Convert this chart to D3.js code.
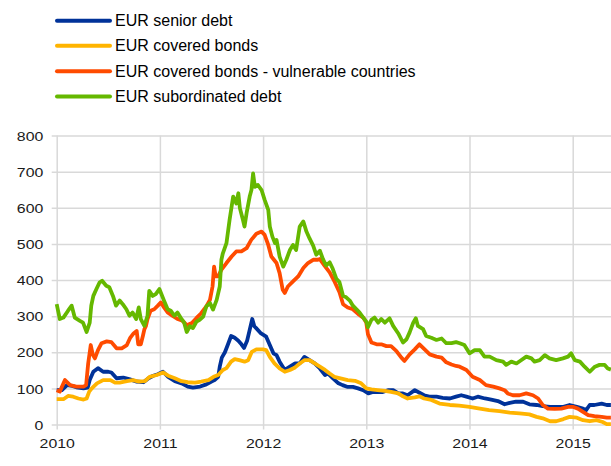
<!DOCTYPE html>
<html>
<head>
<meta charset="utf-8">
<script src="https://cdn.jsdelivr.net/npm/d3@7"></script>
<style>
  html, body { margin: 0; padding: 0; background: #fff; }
  svg { display: block; font-family: "Liberation Sans", Arial, sans-serif; }
</style>
</head>
<body>
<svg id="chart" width="611" height="466"></svg>
<script>
// ---- data (decimal year, basis points) ----
const seriesNames = ["EUR senior debt", "EUR covered bonds", "EUR covered bonds - vulnerable countries", "EUR subordinated debt"];
const seriesColors = ["#003299", "#ffb400", "#ff4b00", "#65b800"];
const yTicks = [0, 100, 200, 300, 400, 500, 600, 700, 800];
const xTicks = [2010, 2011, 2012, 2013, 2014, 2015];

const seniorDebt = [[2010.00,95],[2010.05,95],[2010.10,109],[2010.15,107],[2010.19,103],[2010.26,100],[2010.30,102],[2010.32,123],[2010.355,146],[2010.40,156],[2010.45,146],[2010.50,146],[2010.53,144],[2010.58,128],[2010.645,130],[2010.71,125],[2010.77,119],[2010.84,117],[2010.89,128],[2010.935,135],[2010.98,139],[2011.03,146],[2011.08,132],[2011.145,120],[2011.21,114],[2011.27,105],[2011.32,102],[2011.39,105],[2011.45,111],[2011.50,119],[2011.53,123],[2011.565,132],[2011.58,160],[2011.60,185],[2011.63,200],[2011.66,222],[2011.69,245],[2011.725,240],[2011.76,232],[2011.79,222],[2011.815,212],[2011.845,232],[2011.87,262],[2011.895,292],[2011.915,272],[2011.935,266],[2011.98,252],[2012.03,243],[2012.065,220],[2012.10,197],[2012.13,192],[2012.16,174],[2012.21,151],[2012.26,160],[2012.31,169],[2012.355,169],[2012.40,187],[2012.45,178],[2012.50,169],[2012.55,155],[2012.60,137],[2012.63,141],[2012.68,127],[2012.73,114],[2012.77,109],[2012.82,104],[2012.87,104],[2012.92,100],[2012.97,95],[2013.02,86],[2013.065,90],[2013.11,90],[2013.16,90],[2013.21,95],[2013.26,95],[2013.31,86],[2013.355,86],[2013.40,81],[2013.47,95],[2013.515,88],[2013.56,81],[2013.61,77],[2013.68,77],[2013.74,74],[2013.81,72],[2013.87,77],[2013.92,81],[2013.97,77],[2014.03,72],[2014.08,77],[2014.15,72],[2014.21,69],[2014.275,65],[2014.34,56],[2014.39,60],[2014.45,63],[2014.52,63],[2014.58,56],[2014.65,54],[2014.71,51],[2014.78,49],[2014.84,49],[2014.91,49],[2014.97,54],[2015.04,49],[2015.10,44],[2015.13,40],[2015.165,54],[2015.21,54],[2015.28,58],[2015.33,54],[2015.37,54]];

const coveredBonds = [[2010.00,70],[2010.065,70],[2010.11,79],[2010.16,77],[2010.21,72],[2010.26,69],[2010.29,72],[2010.315,91],[2010.34,100],[2010.39,114],[2010.45,123],[2010.52,123],[2010.565,116],[2010.61,116],[2010.68,120],[2010.74,123],[2010.79,119],[2010.855,120],[2010.90,132],[2010.97,137],[2011.03,144],[2011.08,135],[2011.145,128],[2011.21,120],[2011.27,117],[2011.34,116],[2011.40,119],[2011.47,123],[2011.52,132],[2011.565,137],[2011.61,151],[2011.645,156],[2011.69,174],[2011.725,181],[2011.77,178],[2011.82,174],[2011.855,178],[2011.89,201],[2011.935,208],[2012.00,208],[2012.03,206],[2012.065,187],[2012.11,169],[2012.16,155],[2012.21,146],[2012.26,151],[2012.31,158],[2012.355,169],[2012.40,178],[2012.45,178],[2012.50,169],[2012.55,160],[2012.60,151],[2012.645,141],[2012.69,132],[2012.76,127],[2012.82,123],[2012.89,121],[2012.95,114],[2013.00,100],[2013.05,97],[2013.11,95],[2013.18,93],[2013.24,90],[2013.31,86],[2013.355,78],[2013.40,72],[2013.47,75],[2013.515,78],[2013.56,72],[2013.63,68],[2013.71,58],[2013.81,54],[2013.90,52],[2014.00,49],[2014.10,44],[2014.19,40],[2014.29,37],[2014.39,33],[2014.485,31],[2014.58,28],[2014.65,21],[2014.71,17],[2014.78,9],[2014.84,9],[2014.91,15],[2014.97,21],[2015.04,19],[2015.10,12],[2015.165,9],[2015.23,12],[2015.29,7],[2015.33,1],[2015.37,1]];

const coveredVulnerable = [[2010.00,95],[2010.03,91],[2010.08,123],[2010.13,109],[2010.19,105],[2010.26,105],[2010.285,109],[2010.305,169],[2010.33,220],[2010.35,193],[2010.37,183],[2010.40,206],[2010.435,225],[2010.485,230],[2010.53,228],[2010.58,211],[2010.63,211],[2010.68,220],[2010.71,239],[2010.745,252],[2010.775,259],[2010.79,222],[2010.815,222],[2010.835,245],[2010.85,264],[2010.865,273],[2010.88,292],[2010.91,315],[2010.945,319],[2010.98,329],[2011.01,338],[2011.04,324],[2011.075,310],[2011.12,301],[2011.17,292],[2011.22,287],[2011.26,275],[2011.31,281],[2011.355,295],[2011.40,308],[2011.45,327],[2011.485,345],[2011.51,382],[2011.525,437],[2011.54,410],[2011.565,410],[2011.595,428],[2011.645,447],[2011.695,465],[2011.74,479],[2011.79,479],[2011.84,488],[2011.885,511],[2011.935,528],[2011.985,534],[2012.015,525],[2012.05,497],[2012.08,465],[2012.13,447],[2012.16,419],[2012.19,373],[2012.21,364],[2012.24,382],[2012.29,396],[2012.34,410],[2012.39,433],[2012.435,447],[2012.485,456],[2012.53,456],[2012.55,458],[2012.595,440],[2012.645,421],[2012.695,394],[2012.74,366],[2012.775,333],[2012.82,324],[2012.87,319],[2012.92,306],[2012.97,296],[2013.00,282],[2013.016,250],[2013.05,227],[2013.10,222],[2013.145,222],[2013.195,217],[2013.24,217],[2013.29,204],[2013.34,185],[2013.37,176],[2013.42,194],[2013.47,208],[2013.515,222],[2013.565,208],[2013.615,194],[2013.68,188],[2013.73,185],[2013.775,172],[2013.825,166],[2013.87,162],[2013.905,160],[2013.97,151],[2014.03,132],[2014.10,123],[2014.16,109],[2014.23,105],[2014.29,100],[2014.34,95],[2014.37,86],[2014.42,81],[2014.485,81],[2014.55,86],[2014.615,81],[2014.665,72],[2014.71,54],[2014.76,44],[2014.825,43],[2014.89,44],[2014.955,49],[2015.00,49],[2015.05,44],[2015.10,35],[2015.15,26],[2015.21,23],[2015.28,21],[2015.33,19],[2015.37,19]];

const subordinatedDebt = [[2010.00,333],[2010.03,292],[2010.065,296],[2010.11,315],[2010.145,329],[2010.175,296],[2010.225,287],[2010.255,282],[2010.29,256],[2010.32,282],[2010.335,329],[2010.355,356],[2010.385,375],[2010.415,393],[2010.44,398],[2010.48,384],[2010.51,380],[2010.545,356],[2010.575,329],[2010.61,343],[2010.64,333],[2010.675,319],[2010.705,301],[2010.735,310],[2010.77,292],[2010.795,324],[2010.815,292],[2010.85,273],[2010.88,301],[2010.897,370],[2010.93,356],[2010.96,361],[2010.995,375],[2011.04,343],[2011.075,319],[2011.105,315],[2011.14,301],[2011.17,310],[2011.20,296],[2011.235,282],[2011.26,256],[2011.29,272],[2011.32,267],[2011.355,285],[2011.385,290],[2011.42,299],[2011.45,327],[2011.485,336],[2011.515,318],[2011.55,345],[2011.58,382],[2011.596,456],[2011.61,474],[2011.645,502],[2011.675,566],[2011.71,631],[2011.74,612],[2011.76,640],[2011.775,599],[2011.805,566],[2011.82,548],[2011.84,585],[2011.87,631],[2011.887,649],[2011.903,695],[2011.92,658],[2011.95,663],[2011.985,649],[2012.015,622],[2012.05,594],[2012.065,548],[2012.09,520],[2012.115,502],[2012.13,511],[2012.16,465],[2012.195,437],[2012.225,456],[2012.26,483],[2012.29,497],[2012.32,483],[2012.355,548],[2012.39,562],[2012.42,534],[2012.45,515],[2012.485,495],[2012.515,470],[2012.55,481],[2012.58,458],[2012.61,440],[2012.645,449],[2012.675,431],[2012.71,403],[2012.74,394],[2012.775,356],[2012.805,352],[2012.84,343],[2012.87,329],[2012.905,319],[2012.935,310],[2012.97,296],[2013.00,285],[2013.016,269],[2013.05,290],[2013.08,296],[2013.115,282],[2013.145,292],[2013.18,282],[2013.225,294],[2013.26,273],[2013.31,252],[2013.355,227],[2013.39,236],[2013.42,255],[2013.455,282],[2013.48,294],[2013.50,273],[2013.55,264],[2013.58,245],[2013.63,240],[2013.68,234],[2013.73,238],[2013.775,225],[2013.825,225],[2013.87,228],[2013.905,225],[2013.95,220],[2014.00,197],[2014.05,206],[2014.10,206],[2014.145,188],[2014.195,188],[2014.26,178],[2014.325,174],[2014.355,165],[2014.405,174],[2014.455,169],[2014.50,178],[2014.55,188],[2014.60,183],[2014.63,174],[2014.68,178],[2014.73,192],[2014.775,183],[2014.84,178],[2014.905,183],[2014.955,188],[2014.985,197],[2015.02,178],[2015.07,174],[2015.115,160],[2015.165,146],[2015.215,160],[2015.26,165],[2015.31,165],[2015.34,155],[2015.37,152]];

const seriesData = [seniorDebt, coveredBonds, coveredVulnerable, subordinatedDebt];

// ---- layout ----
const W = 611, H = 466;
const plotLeft = 56.7, plotRight = 611, plotTop = 135.5, plotBottom = 424.5;
const yearPx = 103.2;

const svg = d3.select("#chart");

const x = d3.scaleLinear()
  .domain([2010, 2010 + (plotRight - plotLeft) / yearPx])
  .range([plotLeft, plotRight]);
const y = d3.scaleLinear().domain([0, 800]).range([plotBottom, plotTop]);

const gridColor = "#d9d9d9";
const textScale = 1.22;

// y axis with horizontal gridlines
const gy = svg.append("g")
  .attr("transform", `translate(${plotLeft - 5},0)`)
  .call(d3.axisLeft(y).tickValues(yTicks).tickSize(-(plotRight - plotLeft + 5)).tickPadding(0));
gy.select(".domain").remove();
gy.selectAll(".tick line").attr("stroke", gridColor).attr("stroke-width", 1.5);
gy.selectAll(".tick text")
  .attr("font-size", 13)
  .attr("font-family", '"Liberation Sans", Arial, sans-serif')
  .attr("fill", "#1a1a1a")
  .attr("text-anchor", "end")
  .attr("x", -8.4 / textScale)
  .attr("dy", "0.36em")
  .attr("transform", `scale(${textScale},1)`);

// x axis with vertical gridlines
const axisY = plotBottom + 5;
const gx = svg.append("g")
  .attr("transform", `translate(0,${axisY})`)
  .call(d3.axisBottom(x).tickValues(xTicks).tickFormat(d3.format("d")).tickSize(-(axisY - plotTop)).tickPadding(0));
gx.select(".domain").remove();
gx.selectAll(".tick line").attr("stroke", gridColor).attr("stroke-width", 1.5);
gx.selectAll(".tick text")
  .attr("font-size", 13)
  .attr("font-family", '"Liberation Sans", Arial, sans-serif')
  .attr("fill", "#1a1a1a")
  .attr("y", 448.5 - axisY)
  .attr("dy", "0")
  .attr("transform", `scale(${textScale},1)`);

// lines
const line = d3.line().x(d => x(d[0])).y(d => y(d[1]));
svg.append("defs").append("clipPath").attr("id", "clip")
  .append("rect").attr("x", plotLeft - 3).attr("y", plotTop - 10)
  .attr("width", plotRight - plotLeft + 3).attr("height", plotBottom - plotTop + 13);

const gl = svg.append("g").attr("clip-path", "url(#clip)");
seriesData.forEach((data, i) => {
  gl.append("path")
    .datum(data)
    .attr("fill", "none")
    .attr("stroke", seriesColors[i])
    .attr("stroke-width", 3.8)
    .attr("stroke-linejoin", "round")
    .attr("stroke-linecap", "butt")
    .attr("d", line);
});

// legend
const legendY = [20.7, 45.8, 71.2, 96.6];
const lg = svg.append("g");
seriesNames.forEach((name, i) => {
  lg.append("line")
    .attr("x1", 57).attr("x2", 110)
    .attr("y1", legendY[i]).attr("y2", legendY[i])
    .attr("stroke", seriesColors[i]).attr("stroke-width", 4)
    .attr("stroke-linecap", "round");
  lg.append("text")
    .attr("x", 115).attr("y", legendY[i] + 5.5)
    .attr("font-size", 16)
    .attr("fill", "#000")
    .text(name);
});
</script>
</body>
</html>
